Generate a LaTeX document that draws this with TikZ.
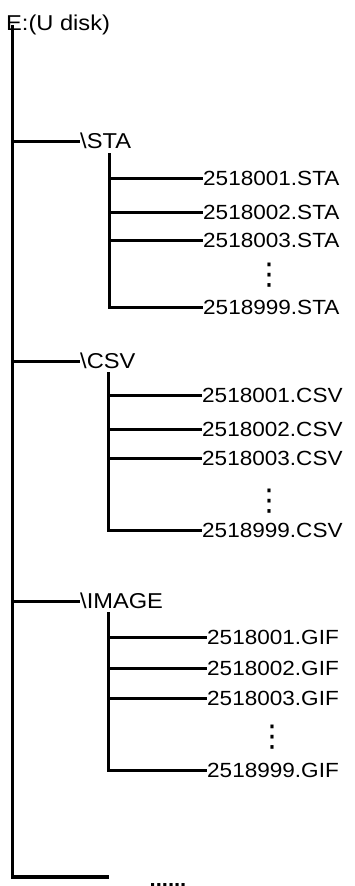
\documentclass[tikz,border=0pt]{standalone}
\usepackage{fontspec}
\setmainfont{Liberation Sans}[FakeStretch=1.1]
\newfontfamily\symfont{DejaVu Sans}
\usepackage{tikz}
\usetikzlibrary{positioning}

\begin{document}
\begin{tikzpicture}[
        x=1pt, y=-1pt,
        trunk/.style={line width=3.4pt},
        branch/.style={line width=3pt},
        dirlbl/.style={font=\fontsize{21.5}{24}\selectfont, inner sep=0pt, anchor=west},
        filelbl/.style={font=\fontsize{20.5}{24}\selectfont, inner sep=0pt, anchor=west},
        skipdots/.style={font=\fontsize{20}{24}\selectfont\bfseries, inner sep=0pt},
        vskip/.style={font=\symfont\fontsize{30}{30}\selectfont, inner sep=0pt}
    ]
    \useasboundingbox (0,0) rectangle (354,886);
    % root and trunk
    \node[dirlbl, anchor=base west] (root) at (6,30) {E:(U disk)};
    \coordinate (top) at (12.5,25);
    \coordinate (bot) at (12.5,877);
    \coordinate (botend) at (109,877);
    \draw[trunk] (top) -- (bot) -- (botend);
    \node[skipdots, anchor=base] (more) at (168,886) {......};

    % \STA
    \node[dirlbl] (sta) at (80,141) {\textbackslash STA};
    \draw[branch] (top |- sta.west) -- (sta.west);
    \coordinate (stabus) at (109,153);
    \node[filelbl] (sta1) at (203,178) {2518001.STA};
    \node[filelbl] (sta2) at (203,212) {2518002.STA};
    \node[filelbl] (sta3) at (203,240) {2518003.STA};
    \node[vskip] (stad) at (269,275) {⋮};
    \node[filelbl] (sta999) at (203,307) {2518999.STA};
    \draw[branch] (stabus) -- (stabus |- sta999.west) -- (sta999.west);
    \draw[branch] (stabus |- sta1.west) -- (sta1.west);
    \draw[branch] (stabus |- sta2.west) -- (sta2.west);
    \draw[branch] (stabus |- sta3.west) -- (sta3.west);

    % \CSV
    \node[dirlbl] (csv) at (80,361) {\textbackslash CSV};
    \draw[branch] (top |- csv.west) -- (csv.west);
    \coordinate (csvbus) at (108,372);
    \node[filelbl] (csv1) at (202,395) {2518001.CSV};
    \node[filelbl] (csv2) at (202,429) {2518002.CSV};
    \node[filelbl] (csv3) at (202,458) {2518003.CSV};
    \node[vskip] (csvd) at (269,501) {⋮};
    \node[filelbl] (csv999) at (202,530) {2518999.CSV};
    \draw[branch] (csvbus) -- (csvbus |- csv999.west) -- (csv999.west);
    \draw[branch] (csvbus |- csv1.west) -- (csv1.west);
    \draw[branch] (csvbus |- csv2.west) -- (csv2.west);
    \draw[branch] (csvbus |- csv3.west) -- (csv3.west);

    % \IMAGE
    \node[dirlbl] (img) at (80,601) {\textbackslash IMAGE};
    \draw[branch] (top |- img.west) -- (img.west);
    \coordinate (imgbus) at (108,612);
    \node[filelbl] (img1) at (207,637) {2518001.GIF};
    \node[filelbl] (img2) at (207,668) {2518002.GIF};
    \node[filelbl] (img3) at (207,698) {2518003.GIF};
    \node[vskip] (imgd) at (272,737) {⋮};
    \node[filelbl] (img999) at (207,770) {2518999.GIF};
    \draw[branch] (imgbus) -- (imgbus |- img999.west) -- (img999.west);
    \draw[branch] (imgbus |- img1.west) -- (img1.west);
    \draw[branch] (imgbus |- img2.west) -- (img2.west);
    \draw[branch] (imgbus |- img3.west) -- (img3.west);
\end{tikzpicture}
\end{document}
